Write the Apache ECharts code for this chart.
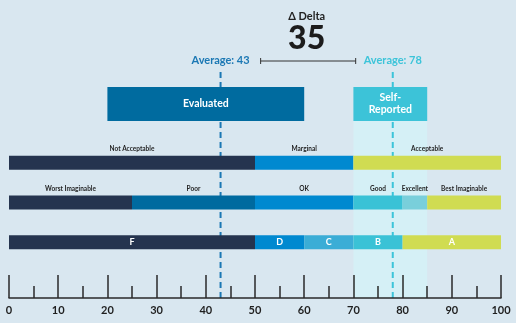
<!DOCTYPE html>
<html>
<head>
<meta charset="utf-8">
<script src="https://cdn.jsdelivr.net/npm/echarts@6/dist/echarts.min.js"></script>
<style>
html,body{margin:0;padding:0;background:#d9e7f0;}
#chart{width:516px;height:323px;}
</style>
</head>
<body>
<div id="chart"></div>
<script>
// ---- data ----
const scaleMin = 0;
const scaleMax = 100;
const tickInterval = 10;
const groupNames = ['Evaluated', 'Self-\nReported'];
const groupRanges = [[20, 60], [70, 85]];
const groupAverages = [43, 78];
const acceptabilityNames = ['Not Acceptable', 'Marginal', 'Acceptable'];
const acceptabilityBreaks = [0, 50, 70, 100];
const adjectiveNames = ['Worst Imaginable', 'Poor', 'OK', 'Good', 'Excellent', 'Best Imaginable'];
const adjectiveBreaks = [0, 25, 50, 70, 80, 85, 100];
const gradeNames = ['F', 'D', 'C', 'B', 'A'];
const gradeBreaks = [0, 50, 60, 70, 80, 100];

// ---- styles ----
const navy = '#25344f', deep = '#006a9f', midBlue = '#0089d0', cBlue = '#3badd6', cyan = '#3ac2d6', pale = '#79cfdb', lime = '#d0dc52';
const acceptabilityColors = [navy, midBlue, lime];
const adjectiveColors = [navy, deep, midBlue, cyan, pale, lime];
const gradeColors = [navy, midBlue, cBlue, cyan, lime];
const groupColors = ['#006b9f', '#3cc3d8'];
const averageColors = ['#1b78b4', '#3cc4d9'];
const FONT = 'Lato, "Open Sans", sans-serif';

const delta = groupAverages[1] - groupAverages[0];

function rangesFrom(breaks, rowIdx) {
  const out = [];
  for (let i = 0; i < breaks.length - 1; i++) out.push([breaks[i], breaks[i + 1], rowIdx]);
  return out;
}

function segRenderer(names, colors, labelInside) {
  return function (params, api) {
    const s = api.coord([api.value(0), api.value(2)]);
    const e = api.coord([api.value(1), api.value(2)]);
    const h = 14;
    const i = params.dataIndex;
    return {
      type: 'rect',
      shape: { x: s[0], y: s[1] - h / 2, width: e[0] - s[0], height: h },
      style: { fill: colors[i] },
      textContent: {
        style: labelInside
          ? { text: names[i], fill: '#ffffff', fontFamily: FONT, fontWeight: 'bold', fontSize: 9 }
          : { text: names[i], fill: '#1f1f1f', fontFamily: FONT, fontWeight: 'bold', fontSize: 6.5 }
      },
      textConfig: labelInside ? { position: 'inside' } : { position: 'top', distance: 3 }
    };
  };
}

const xCommon = { type: 'value', min: scaleMin, max: scaleMax, interval: tickInterval };
const chart = echarts.init(document.getElementById('chart'), null, { renderer: 'canvas' });

const option = {
  backgroundColor: '#d9e7f0',
  animation: false,
  grid: [
    { left: 9, right: 15, top: 72, bottom: 25 },
    { left: 9, right: 15, top: 121, bottom: 25 },
    { left: 9, right: 15, top: 87, height: 34 },
    { left: 9, right: 15, top: 143, height: 119 }
  ],
  xAxis: [
    Object.assign({}, xCommon, {
      gridIndex: 0, z: 5,
      axisLine: { show: true, lineStyle: { color: '#2a2a2a', width: 1.5 } },
      axisTick: { show: true, inside: true, length: 23, lineStyle: { color: '#2a2a2a', width: 1.5 } },
      minorTick: { show: true, splitNumber: 2, length: 12, lineStyle: { color: '#2a2a2a', width: 1.5 } },
      splitLine: { show: false },
      axisLabel: { color: '#1f1f1f', fontFamily: FONT, fontWeight: 'bold', fontSize: 11, margin: 7 }
    }),
    Object.assign({}, xCommon, { gridIndex: 1, show: false }),
    Object.assign({}, xCommon, { gridIndex: 2, show: false }),
    Object.assign({}, xCommon, { gridIndex: 3, show: false })
  ],
  yAxis: [
    { gridIndex: 0, type: 'value', min: 0, max: 1, show: false },
    { gridIndex: 1, type: 'value', min: 0, max: 1, show: false },
    { gridIndex: 2, type: 'category', data: ['g'], show: false },
    { gridIndex: 3, type: 'category', data: ['acceptability', 'adjective', 'grade'], inverse: true, show: false }
  ],
  series: [
    {
      type: 'line', xAxisIndex: 1, yAxisIndex: 1, data: [], z: 1, silent: true,
      markArea: {
        silent: true, z: 1,
        itemStyle: { color: '#d5f0f6' },
        data: [[{ xAxis: groupRanges[1][0] }, { xAxis: groupRanges[1][1] }]]
      }
    },
    {
      type: 'custom', xAxisIndex: 0, yAxisIndex: 0, z: 2, silent: true,
      data: groupAverages.map(v => [v]),
      encode: { x: 0 },
      renderItem: function (params, api) {
        const top = api.coord([api.value(0), 1]);
        const bot = api.coord([api.value(0), 0]);
        const i = params.dataIndex;
        return {
          type: 'line',
          shape: { x1: top[0], y1: top[1], x2: bot[0], y2: bot[1] },
          style: { stroke: averageColors[i], lineWidth: 2, lineDash: [6, 4] },
          textContent: {
            style: { text: 'Average: ' + groupAverages[i], fill: averageColors[i], fontFamily: FONT, fontWeight: 'bold', fontSize: 11 }
          },
          textConfig: { position: 'top', distance: 5 }
        };
      }
    },
    {
      type: 'custom', xAxisIndex: 2, yAxisIndex: 2, z: 20, zlevel: 1,
      data: groupRanges.map(r => [r[0], r[1], 0]),
      encode: { x: [0, 1], y: 2 },
      renderItem: function (params, api) {
        const s = api.coord([api.value(0), 0]);
        const e = api.coord([api.value(1), 0]);
        const h = api.size([0, 1])[1];
        const i = params.dataIndex;
        return {
          type: 'rect',
          shape: { x: s[0], y: s[1] - h / 2, width: e[0] - s[0], height: h },
          style: { fill: groupColors[i] },
          textContent: { style: { text: groupNames[i], fill: '#fff', fontFamily: FONT, fontWeight: 'bold', fontSize: 10.5, lineHeight: 12, align: 'center' } },
          textConfig: { position: 'inside' }
        };
      }
    },
    {
      type: 'custom', xAxisIndex: 3, yAxisIndex: 3, z: 20, zlevel: 1,
      data: rangesFrom(acceptabilityBreaks, 0), encode: { x: [0, 1], y: 2 },
      renderItem: segRenderer(acceptabilityNames, acceptabilityColors, false)
    },
    {
      type: 'custom', xAxisIndex: 3, yAxisIndex: 3, z: 20, zlevel: 1,
      data: rangesFrom(adjectiveBreaks, 1), encode: { x: [0, 1], y: 2 },
      renderItem: segRenderer(adjectiveNames, adjectiveColors, false)
    },
    {
      type: 'custom', xAxisIndex: 3, yAxisIndex: 3, z: 20, zlevel: 1,
      data: rangesFrom(gradeBreaks, 2), encode: { x: [0, 1], y: 2 },
      renderItem: segRenderer(gradeNames, gradeColors, true)
    }
  ]
};
chart.setOption(option);

// ---- delta annotation, positioned from the averages through the axis ----
const p0 = chart.convertToPixel({ xAxisIndex: 0 }, groupAverages[0]);
const p1 = chart.convertToPixel({ xAxisIndex: 0 }, groupAverages[1]);
const centerX = (p0 + p1) / 2;
const ctx = document.createElement('canvas').getContext('2d');
ctx.font = 'bold 11px ' + FONT;
const w0 = ctx.measureText('Average: ' + groupAverages[0]).width;
const w1 = ctx.measureText('Average: ' + groupAverages[1]).width;
const bx0 = p0 + w0 / 2 + 11;
const bx1 = p1 - w1 / 2 - 8;
const by = 61;
chart.setOption({
  graphic: [
    { type: 'text', x: centerX, y: 16, style: { text: '\u0394 Delta', fill: '#222', font: 'bold 11px ' + FONT, align: 'center', verticalAlign: 'middle' } },
    { type: 'text', x: centerX, y: 39, style: { text: String(delta), fill: '#1c1c1c', font: '900 32px ' + FONT, align: 'center', verticalAlign: 'middle' } },
    { type: 'line', shape: { x1: bx0, y1: by, x2: bx1, y2: by }, style: { stroke: '#333', lineWidth: 1 } },
    { type: 'line', shape: { x1: bx0, y1: by - 3, x2: bx0, y2: by + 3 }, style: { stroke: '#333', lineWidth: 1 } },
    { type: 'line', shape: { x1: bx1, y1: by - 3, x2: bx1, y2: by + 3 }, style: { stroke: '#333', lineWidth: 1 } }
  ]
});
</script>
</body>
</html>
